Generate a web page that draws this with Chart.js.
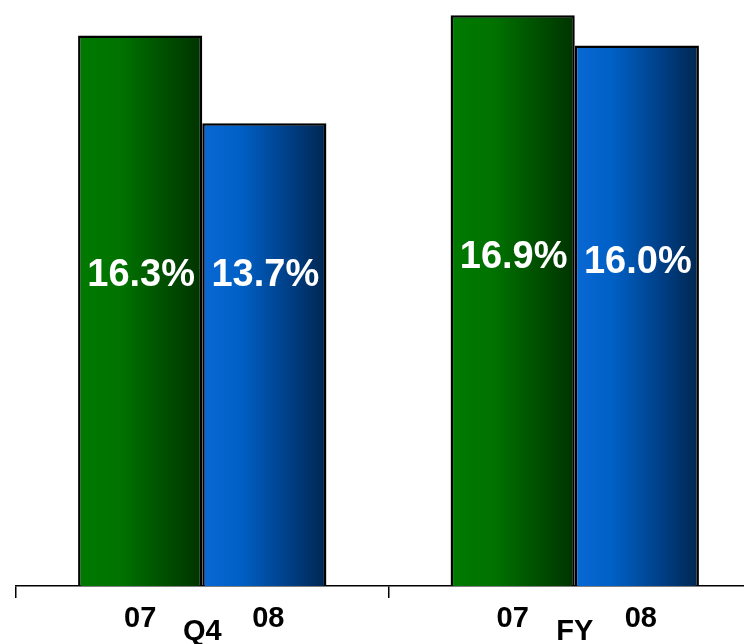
<!DOCTYPE html>
<html>
<head>
<meta charset="utf-8">
<script src="https://cdn.jsdelivr.net/npm/chart.js@4/dist/chart.umd.min.js"></script>
<style>
    html, body { margin: 0; padding: 0; background: #fff; overflow: hidden; }
    #wrap { position: relative; width: 761px; height: 665px; }
</style>
</head>
<body>
<div id="wrap"><canvas id="margin-chart"></canvas></div>
<script>
// ===== MARGIN CHART =====
const periods = ['Q4', 'FY'];
const years = ['07', '08'];
const margin07 = [16.3, 16.9];
const margin08 = [13.7, 16.0];

const FONT = "'Liberation Sans', Arial, sans-serif";
const Y_MAX = 17.35;
const CAT_PCT = 0.6667;

// left-to-right shading for each series
const SHADES = [
    [[0, '#007a00'], [0.35, '#007200'], [0.7, '#004f00'], [1, '#003300']],
    [[0, '#0a68d4'], [0.3, '#0060c6'], [0.7, '#003f86'], [1, '#00264f']]
];

function barShade(c) {
    const chart = c.chart;
    const x = chart.scales.x;
    if (!x || !chart.chartArea) return SHADES[c.datasetIndex][0][1];
    const catW = x.width / periods.length;
    const barW = catW * CAT_PCT / years.length;
    const center = x.getPixelForValue(c.dataIndex);
    const left = center - barW + c.datasetIndex * barW;
    const g = chart.ctx.createLinearGradient(left, 0, left + barW, 0);
    SHADES[c.datasetIndex].forEach(s => g.addColorStop(s[0], s[1]));
    return g;
}

// value labels inside bars, year labels under bars
const VALUE_Y = [[276, 258], [276, 263]];
const barLabels = {
    id: 'barLabels',
    afterDatasetsDraw(chart) {
        const ctx = chart.ctx;
        ctx.save();
        ctx.textAlign = 'center';
        ctx.textBaseline = 'middle';
        chart.data.datasets.forEach((ds, di) => {
            const meta = chart.getDatasetMeta(di);
            meta.data.forEach((bar, i) => {
                ctx.fillStyle = '#fff';
                ctx.font = 'bold 38px ' + FONT;
                ctx.fillText(ds.data[i].toFixed(1) + '%', bar.x + 1, VALUE_Y[di][i]);
                ctx.fillStyle = '#000';
                ctx.font = 'bold 29px ' + FONT;
                ctx.fillText(ds.label, bar.x + (di === 1 ? 4 : 0), 619);
            });
        });
        ctx.restore();
    }
};

const ctx = document.getElementById('margin-chart');
new Chart(ctx, {
    type: 'bar',
    data: {
        labels: periods,
        datasets: [
            { label: years[0], data: margin07, backgroundColor: barShade },
            { label: years[1], data: margin08, backgroundColor: barShade }
        ]
    },
    options: {
        responsive: true,
        maintainAspectRatio: false,
        animation: false,
        layout: { padding: { left: 16, right: 0, top: 0, bottom: 0 } },
        datasets: {
            bar: {
                categoryPercentage: CAT_PCT,
                barPercentage: 1,
                borderColor: '#000',
                borderWidth: 2.5,
                borderSkipped: 'bottom'
            }
        },
        plugins: {
            legend: { display: false },
            tooltip: { enabled: false }
        },
        scales: {
            y: { display: false, min: 0, max: Y_MAX },
            x: {
                grid: { offset: true, drawOnChartArea: false, tickLength: 12, color: '#000', lineWidth: 1.5 },
                border: { color: '#000', width: 1.5 },
                ticks: {
                    color: '#000',
                    padding: 19,
                    maxRotation: 0,
                    font: { family: FONT, size: 29, weight: 'bold', lineHeight: 1 }
                }
            }
        }
    },
    plugins: [barLabels]
});
</script>
</body>
</html>
